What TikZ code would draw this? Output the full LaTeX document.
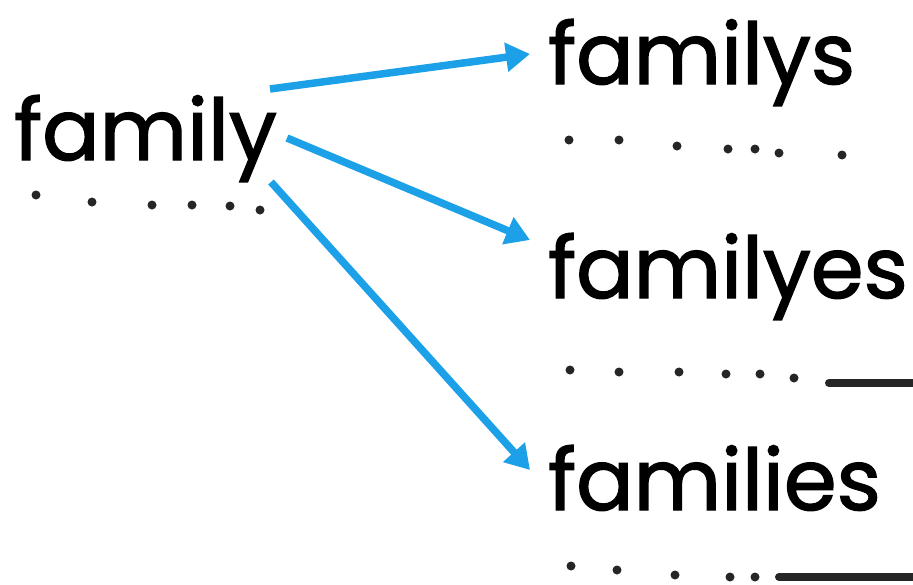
\documentclass[tikz,border=0pt]{standalone}
\usepackage{fontspec}
\setmainfont{Poppins}[BoldFont=Poppins, BoldFeatures={FakeBold=1.6}]
\usetikzlibrary{arrows.meta}
\definecolor{arrowblue}{RGB}{28,160,232}
\tikzset{
  word/.style={anchor=base west, inner sep=0pt, font=\fontsize{85}{90}\selectfont\bfseries},
  dot/.style={circle, fill=black!85, inner sep=0pt, minimum size=9pt},
  blank/.style={line width=8pt, line cap=round, black!85},
  link/.style={line width=7.5pt, arrowblue, -{Triangle[length=24pt,width=28pt]}}
}
\begin{document}
\begin{tikzpicture}[x=1pt,y=-1pt]
\useasboundingbox (0,0) rectangle (913,584);
\node[word] (w0) at (14,160) {family};
\node[word] (w1) at (548,84) {familys};
\node[word] (w2) at (548,298) {familyes};
\node[word] (w3) at (548,510) {families};
% dots under family
\foreach \x/\y [count=\i] in {36/195,92/202,152/205,192/205,230/206,260/210}
  \node[dot] (d0\i) at (\x,\y) {};
% dots under familys
\foreach \x/\y [count=\i] in {569/140,619/140,677/146,728/149,755/149,779/153,842/155}
  \node[dot] (d1\i) at (\x,\y) {};
% dots under familyes
\foreach \x/\y [count=\i] in {570/370,619/372,679/372,726/374,760/374,794/378}
  \node[dot] (d2\i) at (\x,\y) {};
\coordinate (b2s) at (829,383);
\coordinate (b2e) at (913,383);
\draw[blank] (b2s) -- (b2e);
% dots under families
\foreach \x/\y [count=\i] in {571/566,617/570,675/575,730/577,755/577}
  \node[dot] (d3\i) at (\x,\y) {};
\coordinate (b3s) at (779,577);
\coordinate (b3e) at (913,577);
\draw[blank] (b3s) -- (b3e);
% arrows
\coordinate (s1) at (270,89);
\coordinate (e1) at (530,54);
\coordinate (s2) at (287,138);
\coordinate (e2) at (530,240);
\coordinate (s3) at (271,182);
\coordinate (e3) at (530,470);
\draw[link] (s1) -- (e1);
\draw[link] (s2) -- (e2);
\draw[link] (s3) -- (e3);
\end{tikzpicture}
\end{document}
